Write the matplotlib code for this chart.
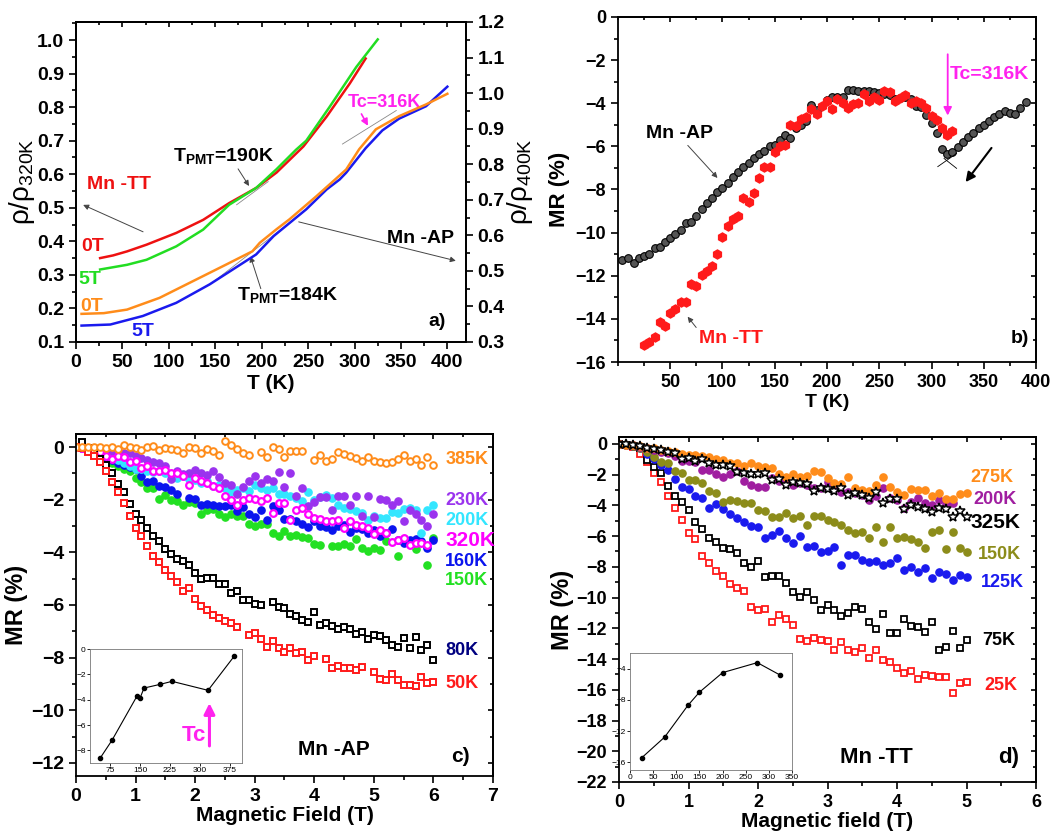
import matplotlib
matplotlib.use('Agg')
import matplotlib.pyplot as plt
from matplotlib.ticker import MultipleLocator
import numpy as np

nan = np.nan

# ---------------- panel a: resistivity ----------------
T_tt0 = [26, 40, 55, 76, 108, 137, 165, 194, 216, 245, 270, 295, 312]
rho_tt0 = [0.350, 0.358, 0.370, 0.39, 0.425, 0.464, 0.514, 0.559, 0.605, 0.683, 0.772, 0.871, 0.945]
T_tt5 = [26, 55, 76, 108, 137, 165, 194, 216, 237, 248, 273, 302, 325]
rho_tt5 = [0.316, 0.330, 0.345, 0.385, 0.435, 0.509, 0.559, 0.615, 0.673, 0.70, 0.80, 0.92, 1.002]
T_ap0 = [6, 30, 55, 90, 126, 162, 190, 198, 216, 230, 259, 277, 291, 305, 323, 348, 377, 400]
rho_ap0 = [0.379, 0.381, 0.391, 0.424, 0.471, 0.518, 0.555, 0.579, 0.617, 0.645, 0.71, 0.752, 0.785, 0.842,
           0.898, 0.935, 0.968, 0.998]
T_ap5 = [6, 37, 72, 108, 144, 172, 194, 213, 248, 270, 284, 291, 312, 330, 348, 377, 400]
rho_ap5 = [0.346, 0.349, 0.373, 0.41, 0.462, 0.509, 0.546, 0.598, 0.673, 0.729, 0.757, 0.776, 0.845, 0.895,
           0.928, 0.963, 1.018]

# ---------------- panel b: MR vs T ----------------
T_b_ap = [4, 10, 15, 20, 25, 30, 35, 40, 45, 50, 55, 60, 65, 70, 75, 80, 85, 90, 95, 100,
          105, 110, 115, 120, 125, 130, 135, 140, 145, 150, 155, 160, 165, 170, 175, 180, 185, 190, 200, 205,
          210, 215, 220, 225, 230, 235, 240, 245, 250, 255, 260, 265, 270, 275, 280, 285, 290, 295, 300, 305,
          310, 315, 320, 325, 330, 335, 340, 345, 350, 355, 360, 365, 370, 375, 380, 385, 390]
MR_b_ap = [-11.27, -11.2, -11.4, -11.19, -11.08, -11.0, -10.73, -10.65, -10.42, -10.26, -10.08, -9.88, -9.54, -9.49, -9.23, -8.92, -8.64, -8.41, -8.1, -7.92,
           -7.69, -7.44, -7.18, -6.94, -6.76, -6.56, -6.36, -6.2, -5.97, -5.94, -5.71, -5.48, -5.6, -5.17, -5.02, -4.81, -4.06, -4.3, -3.86, -3.73,
           -3.7, -3.7, -3.4, -3.4, -3.43, -3.44, -3.44, -3.47, -3.52, -3.58, -3.63, -3.81, -3.78, -3.7, -3.81, -4.14, -4.17, -4.55, -4.91, -5.37,
           -6.1, -6.36, -6.25, -6.05, -5.79, -5.56, -5.37, -5.14, -5.02, -4.81, -4.66, -4.51, -4.35, -4.43, -4.52, -4.2, -3.94]
T_b_tt = [25, 30, 35, 40, 45, 50, 55, 60, 65, 70, 75, 80, 85, 90, 95, 100, 105, 110, 115, 120,
          125, 130, 135, 140, 145, 150, 155, 160, 165, 170, 175, 180, 185, 190, 195, 200, 205, 210, 215, 220,
          225, 230, 235, 240, 245, 250, 255, 260, 265, 270, 275, 280, 285, 290, 295, 300, 305, 310, 315, 320]
MR_b_tt = [-15.2, -15.08, -14.85, -14.15, -14.35, -13.73, -13.55, -13.22, -13.22, -12.39, -12.47, -11.96, -11.8, -11.57, -11.0, -10.22, -9.69, -9.38, -9.21, -8.38,
           -8.56, -8.15, -7.48, -6.94, -6.94, -6.25, -5.97, -5.94, -5.02, -5.05, -4.71, -4.63, -4.29, -4.48, -4.14, -3.89, -4.27, -3.81, -3.97, -4.2,
           -4.04, -3.97, -3.55, -3.9, -3.73, -3.86, -3.44, -3.5, -3.89, -3.75, -3.63, -3.98, -3.89, -3.98, -4.2, -4.6, -4.78, -5.17, -5.48, -5.29]

# ---------------- panel c: MR vs H, Mn-AP ----------------
H_c = [0.0, 0.1, 0.2, 0.3, 0.4, 0.5, 0.6, 0.7, 0.8, 0.9, 1.0, 1.1, 1.2, 1.3, 1.4, 1.5, 1.6, 1.7, 1.8, 1.9,
       2.0, 2.1, 2.2, 2.3, 2.4, 2.5, 2.6, 2.7, 2.8, 2.9, 3.0, 3.1, 3.2, 3.3, 3.4, 3.5, 3.6, 3.7, 3.8, 3.9,
       4.0, 4.1, 4.2, 4.3, 4.4, 4.5, 4.6, 4.7, 4.8, 4.9, 5.0, 5.1, 5.2, 5.3, 5.4, 5.5, 5.6, 5.7, 5.8, 5.9, 6.0]
mr_c_50 = [0, -0.04, -0.19, -0.33, -0.58, -0.92, -1.33, -1.72, -2.13, -2.63,
           -3.08, -3.39, -3.75, -4.13, -4.38, -4.68, -4.91, -5.14, -5.46, -5.37,
           -5.77, -6.03, -6.18, -6.37, -6.49, -6.59, -6.68, -6.84, nan, -7.15,
           -7.06, -7.28, -7.61, -7.35, -7.63, -7.78, -7.63, -7.82, -7.78, -8.1,
           -7.92, nan, -8.05, -8.39, -8.3, -8.39, -8.39, -8.48, -8.35, nan,
           -8.54, -8.81, -8.87, -8.62, -8.87, -9.05, -9.05, -9.09, -8.75, -8.96, -8.92]
mr_c_80 = [nan, 0.21, -0.04, -0.23, -0.44, -0.67, -0.99, -1.41, -1.7, -2.16,
           -2.53, -2.76, -3.08, -3.37, -3.58, -3.86, -4.06, -4.25, -4.34, -4.47,
           -4.78, -5.0, -4.97, -4.97, -5.19, -5.2, -5.54, -5.46, -5.82, -5.82,
           -5.95, -5.99, nan, -5.9, -6.08, -6.11, -6.34, -6.43, -6.56, -6.66,
           -6.28, -6.75, -6.68, -6.81, -6.9, -6.84, -6.9, -7.1, -7.04, -7.28,
           -7.13, -7.19, -7.34, -7.51, -7.59, -7.25, -7.63, -7.22, -7.7, -7.53, -8.08]
mr_c_385 = [0, 0, -0.01, 0, 0, -0.04, 0, -0.06, 0.09, 0,
            -0.04, -0.1, -0.01, 0.03, -0.1, -0.04, -0.06, -0.1, -0.23, 0,
            -0.04, -0.23, -0.06, -0.16, -0.29, 0.22, 0.09, -0.06, -0.23, -0.29,
            nan, -0.2, -0.38, 0, -0.06, -0.38, -0.13, -0.16, -0.16, nan,
            -0.48, -0.29, -0.51, -0.46, -0.2, -0.25, -0.33, -0.42, -0.51, -0.38,
            -0.51, -0.58, -0.61, -0.58, -0.46, -0.29, -0.54, -0.46, -0.67, -0.38, -0.67]
mr_c_320 = [0, -0.05, -0.1, -0.15, -0.2, -0.33, -0.46, -0.32, -0.38, -0.58,
            -0.51, -0.8, -0.73, -0.92, -0.89, -0.86, -0.99, -0.99, -1.11, -1.43,
            -1.18, -1.27, -1.37, -1.49, -1.56, -1.85, -2.0, -2.19, -2.0, -1.94,
            -1.97, -2.06, -1.94, -2.51, -2.13, -2.13, -2.78, -2.38, -2.32, -2.53,
            -2.7, -2.73, -2.82, -2.82, -2.76, -3.08, -2.82, -2.95, -3.01, -3.08,
            -3.29, -3.16, -3.27, -3.62, -3.54, -3.46, -3.71, -3.65, -3.65, -3.71, nan]
mr_c_200 = [0, -0.03, -0.08, -0.12, -0.2, -0.28, -0.4, -0.5, -0.6, -0.7,
            -0.84, -0.82, -0.9, -0.95, -0.9, -1.0, -1.05, -1.18, -1.1, -1.2,
            -1.25, -1.37, -1.3, -1.49, -1.45, -1.55, -1.7, -1.62, -1.56, -1.68,
            -1.43, -1.55, -1.62, -1.56, -1.8, -1.77, -1.85, -1.95, -2.05, -1.72,
            -2.0, -1.9, -1.81, -1.92, -2.2, -2.32, -2.35, -2.44, -2.5, -2.76,
            -2.6, -2.7, -2.7, -2.45, -2.5, -2.35, -2.32, -2.4, -3.27, -2.4, -2.19]
mr_c_230 = [0, -0.02, -0.05, -0.1, -0.08, -0.1, -0.15, -0.2, -0.22, -0.23,
            -0.35, -0.4, -0.5, -0.55, -0.61, -0.7, -1.22, -0.9, -1.01, -0.99,
            -0.86, -1.0, -1.05, -0.89, -1.15, -1.37, -1.43, -1.77, -1.5, -1.3,
            -1.09, -1.37, -1.22, -1.3, -0.96, -1.5, -0.99, -1.87, -1.56, -2.23,
            -2.1, -1.91, -1.91, -2.38, -1.85, -1.85, -2.2, -1.85, -2.63, -1.85,
            -2.66, -1.96, -2.0, -2.19, -2.04, -2.82, -2.38, -2.53, -2.76, -2.99, -2.53]
mr_c_160 = [0, -0.03, -0.08, -0.15, -0.3, -0.4, -0.5, -0.61, -0.67, -0.75,
            -0.84, -1.1, -1.34, -1.3, -1.49, -1.53, -1.62, -1.77, nan, -1.94,
            -1.97, -2.19, -2.15, -2.19, -2.23, -2.23, -2.19, -2.41, -2.28, -2.54,
            -2.67, -2.38, -2.76, -2.25, -2.38, -2.72, -2.72, -2.82, -2.92, -3.05,
            -2.82, -3.01, -3.04, -3.14, -2.99, -2.95, -3.24, -3.08, -3.11, -3.27,
            -3.14, -3.39, -3.27, -3.11, -3.52, -3.65, -3.54, -3.49, -3.58, -3.84, -3.54]
mr_c_150 = [0, -0.05, -0.12, -0.2, -0.35, -0.5, -0.6, -0.73, -0.84, -0.92,
            -1.18, -1.34, -1.56, -1.56, -1.97, -1.81, -2.0, -2.04, -2.19, -2.1,
            -2.13, -2.53, -2.38, -2.35, -2.53, -2.67, -2.54, -2.63, -2.61, -2.91,
            -2.99, -2.92, -2.91, -3.27, -3.39, -3.2, -3.37, -3.33, -3.42, -3.46,
            -3.67, -3.71, nan, -3.75, -3.77, -3.67, -3.77, -3.49, -3.84, -3.96,
            -3.84, -3.9, -3.58, nan, -4.13, nan, nan, -3.87, nan, -4.47, -3.46]
T_inset_c = [50, 80, 143, 150, 160, 200, 230, 320, 385]
MR_inset_c = [-8.63, -7.2, -3.68, -3.87, -3.08, -2.79, -2.55, -3.26, -0.58]

# ---------------- panel d: MR vs H, Mn-TT ----------------
H_d = [0.0, 0.1, 0.2, 0.3, 0.4, 0.5, 0.6, 0.7, 0.8, 0.9, 1.0, 1.1, 1.2, 1.3, 1.4, 1.5, 1.6, 1.7, 1.8, 1.9,
       2.0, 2.1, 2.2, 2.3, 2.4, 2.5, 2.6, 2.7, 2.8, 2.9, 3.0, 3.1, 3.2, 3.3, 3.4, 3.5, 3.6, 3.7, 3.8, 3.9,
       4.0, 4.1, 4.2, 4.3, 4.4, 4.5, 4.6, 4.7, 4.8, 4.9, 5.0]
mr_d_275 = [0, -0.07, -0.1, -0.17, -0.24, -0.28, -0.39, -0.46, -0.56, -0.67,
            -0.72, -0.72, -0.78, -0.87, -0.98, -1.04, -1.26, -1.22, -1.43, -1.22,
            -1.43, -1.52, -1.55, -1.95, -2.13, -1.95, -2.17, -2.08, -1.74, -1.85,
            -2.24, -2.56, -2.61, -2.17, -2.89, -3.0, -3.04, -2.67, -2.17, -2.78,
            -3.11, -3.32, -2.95, -3.0, -3.0, -3.39, -3.17, -3.6, -3.6, -3.26, -3.21]
mr_d_200 = [0, -0.05, -0.1, -0.2, -0.3, -0.38, -0.5, -0.61, -0.76, -1.11,
            -1.11, -1.15, -1.69, -1.69, -1.95, -2.17, -1.95, -1.74, -2.39, -2.67,
            -2.78, -2.78, -2.24, -2.4, -2.5, -2.67, -2.52, -2.7, -2.89, -2.89,
            -2.45, -2.9, -3.11, -3.1, -3.2, -3.3, -3.65, -3.4, -2.89, -3.5,
            -3.65, -4.19, -3.8, -3.54, -3.82, -4.0, -3.65, -3.91, -3.87, nan, nan]
mr_d_325 = [0, 0, -0.07, -0.13, -0.28, -0.35, -0.43, -0.5, -0.61, -1.0,
            -0.93, -1.09, -1.0, -1.26, -1.37, -1.37, -1.43, -1.8, -1.91, -1.95,
            -1.95, -1.87, -2.35, -2.3, -2.67, -2.45, -2.56, -2.61, -3.06, -2.89,
            -2.95, -3.06, -2.89, -3.32, -3.21, -3.32, -3.54, -3.11, -3.87, -3.6,
            -3.6, -4.26, -3.97, -4.13, -4.26, -4.41, -4.19, -4.26, -4.73, -4.34, -4.78]
mr_d_150 = [0, -0.05, -0.15, -0.3, -0.5, -0.83, -1.15, -1.26, -1.74, -1.87,
            -2.35, -2.35, -2.56, -3.04, -3.21, -3.76, -3.65, -3.71, -3.87, -3.87,
            -4.3, -4.37, -4.73, -4.73, -4.52, -4.84, -4.69, -5.28, -4.69, -4.69,
            -4.95, -5.06, -5.28, -5.6, -5.78, -5.71, -6.15, -5.43, -6.36, -5.43,
            -6.15, -6.04, -6.21, -6.36, -6.8, -5.71, -5.6, -6.86, -5.71, -6.8, -7.01]
mr_d_125 = [0, -0.05, -0.15, -0.3, -0.67, -1.0, -1.37, -1.69, -2.3, -2.78,
            -2.95, -3.39, -3.5, -4.15, -3.91, -4.26, -4.58, -4.8, -5.06, -5.34,
            -5.39, -6.15, -5.93, -5.67, -6.1, -6.43, -5.97, -6.73, -6.62, -7.01,
            -6.95, -6.73, -7.88, -7.23, -7.23, -7.56, -7.67, -7.62, -7.88, -7.77,
            -7.45, -8.21, -8.03, -8.32, -8.1, -8.75, -8.32, -8.47, -8.86, -8.53, -8.64]
mr_d_75 = [0, -0.05, -0.15, -0.3, -1.04, -1.48, -1.91, -2.74, -3.39, -3.8,
           -4.3, -5.06, -5.54, -6.1, -6.36, -6.75, -6.86, -7.12, -7.73, -7.99,
           -7.62, -8.64, -8.6, -8.6, -9.03, -9.66, -9.99, -9.62, -10.16, -10.81,
           -10.49, -10.81, -11.2, -10.99, -10.6, -10.77, -11.57, -12.05, -11.07, -12.33,
           -12.33, -11.42, -11.86, -11.94, -12.23, -11.57, -13.38, -13.2, -12.16, -13.31, -12.77]
mr_d_25 = [0, -0.05, -0.2, -0.65, -1.15, -1.87, -2.5, -3.39, -4.15, -4.95,
           -5.82, -6.19, -7.27, -7.73, -8.25, -8.6, -9.12, -9.4, -9.58, -10.6,
           -10.81, -10.75, -11.57, -11.14, -11.4, -11.79, -12.7, -12.81, -12.66, -12.77,
           -12.83, -13.38, -12.88, -13.38, -13.57, -13.31, -13.9, -13.42, -14.07, -14.18,
           -14.61, -14.94, -14.77, -15.27, -15.05, -15.09, -15.2, -15.2, -16.2, -15.59, -15.48]
T_inset_d = [25, 75, 125, 150, 200, 275, 325]
MR_inset_d = [-15.45, -12.77, -8.72, -7.02, -4.51, -3.23, -4.85]

plt.rcParams['font.family'] = ['Liberation Sans', 'DejaVu Sans']
plt.rcParams['font.weight'] = 'bold'
plt.rcParams['axes.labelweight'] = 'bold'
plt.rcParams['axes.linewidth'] = 1.3
plt.rcParams['mathtext.default'] = 'regular'


def frame(ax, xmaj, xmin, ymaj, ymin, size, xticks=None):
    # outward ticks left/bottom, inward mirrored ticks top/right
    ax.xaxis.set_major_locator(MultipleLocator(xmaj))
    ax.xaxis.set_minor_locator(MultipleLocator(xmin))
    ax.yaxis.set_major_locator(MultipleLocator(ymaj))
    ax.yaxis.set_minor_locator(MultipleLocator(ymin))
    if xticks is not None:
        ax.set_xticks(xticks)
    ax.tick_params(which='both', direction='out', width=1.2, labelsize=size)
    ax.tick_params(which='major', length=5)
    ax.tick_params(which='minor', length=3)
    for lab in ax.get_xticklabels() + ax.get_yticklabels():
        lab.set_fontweight('bold')
    top = ax.secondary_xaxis('top')
    top.xaxis.set_major_locator(MultipleLocator(xmaj))
    top.xaxis.set_minor_locator(MultipleLocator(xmin))
    if xticks is not None:
        top.set_xticks(xticks)
    top.tick_params(which='both', direction='in', labeltop=False, width=1.2)
    return top


def mirror_y(ax, ymaj, ymin):
    right = ax.secondary_yaxis('right')
    right.yaxis.set_major_locator(MultipleLocator(ymaj))
    right.yaxis.set_minor_locator(MultipleLocator(ymin))
    right.tick_params(which='both', direction='in', labelright=False, width=1.2)


fig = plt.figure(figsize=(10.64, 8.32), dpi=100)

# ===== panel a =====
ax_a = fig.add_axes([0.0714, 0.589, 0.3665, 0.3846])
ax_a2 = ax_a.twinx()
ax_a.plot(T_tt0, rho_tt0, color='#ee1111', lw=1.8)
ax_a.plot(T_tt5, rho_tt5, color='#22dd22', lw=1.8)
ax_a2.plot(T_ap5, rho_ap5, color='#1a1aee', lw=1.8)
ax_a2.plot(T_ap0, rho_ap0, color='#ff8c1a', lw=1.8)
ax_a.set_xlim(0, 420)
ax_a.set_ylim(0.1, 1.054)
ax_a2.set_ylim(0.3, 1.2)
frame(ax_a, 50, 25, 0.1, 0.05, 14)
ax_a.tick_params(right=False)
ax_a2.yaxis.set_major_locator(MultipleLocator(0.1))
ax_a2.yaxis.set_minor_locator(MultipleLocator(0.05))
ax_a2.tick_params(which='both', direction='out', width=1.2, labelsize=14)
ax_a2.tick_params(which='major', length=5)
ax_a2.tick_params(which='minor', length=3)
for lab in ax_a2.get_yticklabels():
    lab.set_fontweight('bold')
ax_a.set_xlabel('T (K)', fontsize=15, labelpad=2)
ax_a.set_ylabel(r'ρ/ρ$_{320K}$', fontsize=20, fontweight='normal', labelpad=0)
ax_a2.set_ylabel(r'ρ/ρ$_{400K}$', fontsize=20, fontweight='normal', labelpad=0)

ax_a.text(12, 0.57, 'Mn -TT', color='#ee1111', fontsize=14, va='center')
ax_a.text(6, 0.385, '0T', color='#ee1111', fontsize=14, va='center')
ax_a.text(3, 0.286, '5T', color='#22dd22', fontsize=14, va='center')
ax_a.text(5, 0.206, '0T', color='#ff8c1a', fontsize=14, va='center')
ax_a.text(60, 0.13, '5T', color='#1a1aee', fontsize=14, va='center')
ax_a.text(380, 0.16, 'a)', fontsize=14, va='center')
ax_a.text(407, 0.407, 'Mn -AP', fontsize=14, va='center', ha='right')
ax_a.text(105, 0.655, r'T$_{PMT}$=190K', fontsize=14, va='center')
ax_a.text(173, 0.24, r'T$_{PMT}$=184K', fontsize=14, va='center')
ax_a.text(293, 0.815, 'Tc=316K', color='#ff22ee', fontsize=13, va='center')
thin = dict(arrowstyle='-|>', color='#444444', lw=0.7, mutation_scale=8)
ax_a.annotate('', xy=(5, 0.512), xytext=(75, 0.425), arrowprops=thin)
ax_a.annotate('', xy=(412, 0.34), xytext=(237, 0.46), arrowprops=thin, annotation_clip=False)
ax_a.annotate('', xy=(188, 0.558), xytext=(173, 0.623), arrowprops=thin)
ax_a.annotate('', xy=(187, 0.363), xytext=(200, 0.251), arrowprops=thin)
ax_a.annotate('', xy=(316, 0.737), xytext=(306, 0.787),
              arrowprops=dict(arrowstyle='-|>', color='#ff22ee', lw=1.2, mutation_scale=10))
ax_a.plot([173, 207], [0.509, 0.578], color='#888888', lw=0.6)
ax_a.plot([145, 225], [0.273, 0.444], color='#888888', lw=0.6)
ax_a.plot([287, 345], [0.69, 0.79], color='#888888', lw=0.6)

# ===== panel b =====
ax_b = fig.add_axes([0.5808, 0.5649, 0.3929, 0.4147])
ax_b.plot(T_b_ap, MR_b_ap, 'o', ms=5.5, mfc='#555555', mec='black', mew=0.8)
ax_b.plot(T_b_tt, MR_b_tt, 'h', ms=6.5, mfc='#ff1a1a', mec='#ff1a1a')
ax_b.set_xlim(0, 400)
ax_b.set_ylim(-16, 0)
frame(ax_b, 50, 25, 2, 1, 13, xticks=[50, 100, 150, 200, 250, 300, 350, 400])
mirror_y(ax_b, 2, 1)
ax_b.set_xlabel('T (K)', fontsize=14, labelpad=2)
ax_b.set_ylabel('MR (%)', fontsize=16, labelpad=4)
ax_b.text(27, -5.4, 'Mn -AP', fontsize=14, va='center')
ax_b.annotate('', xy=(97, -7.56), xytext=(65, -5.86), arrowprops=thin)
ax_b.text(78, -14.9, 'Mn -TT', color='#ff1a1a', fontsize=14, va='center')
ax_b.annotate('', xy=(65, -13.8), xytext=(76.5, -14.5), arrowprops=thin)
ax_b.text(317, -2.65, 'Tc=316K', color='#ff22ee', fontsize=14, va='center')
ax_b.annotate('', xy=(315.5, -4.7), xytext=(315.5, -1.6),
              arrowprops=dict(arrowstyle='-|>', color='#ff22ee', lw=1.3, mutation_scale=12))
ax_b.annotate('', xy=(331, -7.76), xytext=(359, -5.97),
              arrowprops=dict(arrowstyle='-|>', color='black', lw=1.5, mutation_scale=14))
ax_b.plot([306, 324], [-6.94, -6.33], color='black', lw=0.6)
ax_b.plot([312, 324], [-6.56, -7.02], color='black', lw=0.6)
ax_b.text(376, -14.9, 'b)', fontsize=14, va='center')

# ===== panel c =====
ax_c = fig.add_axes([0.0714, 0.0673, 0.3919, 0.4111])
filled_c = [(mr_c_150, '#22e022'), (mr_c_160, '#0a14ee'), (mr_c_200, '#33e6ff'), (mr_c_230, '#9a33ee')]
for mr, col in filled_c:
    ax_c.plot(H_c, mr, 'o', ms=5.2, color=col, mec=col)
ax_c.plot(H_c, mr_c_320, 'o', ms=4.8, mfc='white', mec='#ff00ff', mew=1.6)
ax_c.plot(H_c, mr_c_80, 's', ms=4.8, mfc='white', mec='black', mew=1.4)
ax_c.plot(H_c, mr_c_50, 's', ms=4.8, mfc='white', mec='#ff1a1a', mew=1.4)
ax_c.plot(H_c, mr_c_385, 'o', ms=4.8, mfc='white', mec='#ff8c1a', mew=1.4)
ax_c.set_xlim(0, 7)
ax_c.set_ylim(-12.5, 0.5)
frame(ax_c, 1, 0.5, 2, 1, 14)
mirror_y(ax_c, 2, 1)
ax_c.set_xlabel('Magnetic Field (T)', fontsize=15, labelpad=1)
ax_c.set_ylabel('MR (%)', fontsize=17, labelpad=2)
labels_c = [('385K', -0.46, '#ff8c1a', 13), ('230K', -2.04, '#9a33ee', 13), ('200K', -2.77, '#33e6ff', 13),
            ('320K', -3.56, '#ff00ff', 15), ('160K', -4.36, '#0a14ee', 13), ('150K', -5.08, '#22e022', 13),
            ('80K', -7.73, '#000080', 13), ('50K', -9.0, '#ff1a1a', 13)]
for txt, yv, col, fs in labels_c:
    ax_c.text(6.2, yv, txt, color=col, fontsize=fs, va='center')
ax_c.text(3.73, -11.5, 'Mn -AP', fontsize=15, va='center')
ax_c.text(6.3, -11.77, 'c)', fontsize=15, va='center')

ins_c = fig.add_axes([0.0846, 0.0829, 0.1429, 0.137])
ins_c.plot(T_inset_c, MR_inset_c, '-o', color='black', ms=3, lw=0.8)
ins_c.set_xlim(25, 405)
ins_c.set_ylim(-9, 0)
ins_c.set_xticks([75, 150, 225, 300, 375])
ins_c.set_yticks([0, -2, -4, -6, -8])
ins_c.tick_params(labelsize=6, length=2, width=0.6, pad=1)
for lab in ins_c.get_xticklabels() + ins_c.get_yticklabels():
    lab.set_fontweight('normal')
for sp in ins_c.spines.values():
    sp.set_linewidth(0.6)
    sp.set_color('#777777')
ins_c.text(254, -6.8, 'Tc', color='#ff22ee', fontsize=16, va='center')
ins_c.annotate('', xy=(323.5, -4.05), xytext=(323.5, -7.87),
               arrowprops=dict(arrowstyle='-|>', color='#ff22ee', lw=2.2, mutation_scale=16))

# ===== panel d =====
ax_d = fig.add_axes([0.5818, 0.0601, 0.3919, 0.4147])
ax_d.plot(H_d, mr_d_25, 's', ms=4.3, mfc='white', mec='#ff1a1a', mew=1.3)
ax_d.plot(H_d, mr_d_75, 's', ms=4.8, mfc='white', mec='black', mew=1.3)
ax_d.plot(H_d, mr_d_125, 'o', ms=5.2, color='#1a1aee')
ax_d.plot(H_d, mr_d_150, 'o', ms=5.2, color='#8c8c1a')
ax_d.plot(H_d, mr_d_200, 'o', ms=5.2, color='#a01ea0')
ax_d.plot(H_d, mr_d_275, 'o', ms=5.2, color='#ff8c1a')
ax_d.plot(H_d, mr_d_325, '*', ms=7.5, mfc='white', mec='black', mew=1.1)
ax_d.set_xlim(0, 6)
ax_d.set_ylim(-22, 0.45)
frame(ax_d, 1, 0.5, 2, 1, 13)
mirror_y(ax_d, 2, 1)
ax_d.set_xlabel('Magnetic field (T)', fontsize=15, labelpad=1)
ax_d.set_ylabel('MR (%)', fontsize=17, labelpad=2)
labels_d = [('275K', 5.06, -2.17, '#ff8c1a', 13), ('200K', 5.1, -3.6, '#a01ea0', 13),
            ('325K', 5.06, -5.12, 'black', 15), ('150K', 5.17, -7.17, '#8c8c1a', 13),
            ('125K', 5.2, -9.03, '#1a1aee', 13), ('75K', 5.22, -12.8, 'black', 13),
            ('25K', 5.25, -15.74, '#ff1a1a', 13)]
for txt, xv, yv, col, fs in labels_d:
    ax_d.text(xv, yv, txt, color=col, fontsize=fs, va='center')
ax_d.text(3.18, -20.4, 'Mn -TT', fontsize=16, va='center')
ax_d.text(5.45, -20.4, 'd)', fontsize=16, va='center')

ins_d = fig.add_axes([0.5921, 0.0745, 0.1523, 0.1406])
ins_d.plot(T_inset_d, MR_inset_d, '-o', color='black', ms=3, lw=0.8)
ins_d.set_xlim(0, 350)
ins_d.set_ylim(-17, -2)
ins_d.set_xticks([0, 50, 100, 150, 200, 250, 300, 350])
ins_d.set_yticks([-4, -8, -12, -16])
ins_d.tick_params(labelsize=6, length=2, width=0.6, pad=1)
for lab in ins_d.get_xticklabels() + ins_d.get_yticklabels():
    lab.set_fontweight('normal')
for sp in ins_d.spines.values():
    sp.set_linewidth(0.6)
    sp.set_color('#777777')

fig.savefig('out.png', dpi=100)
